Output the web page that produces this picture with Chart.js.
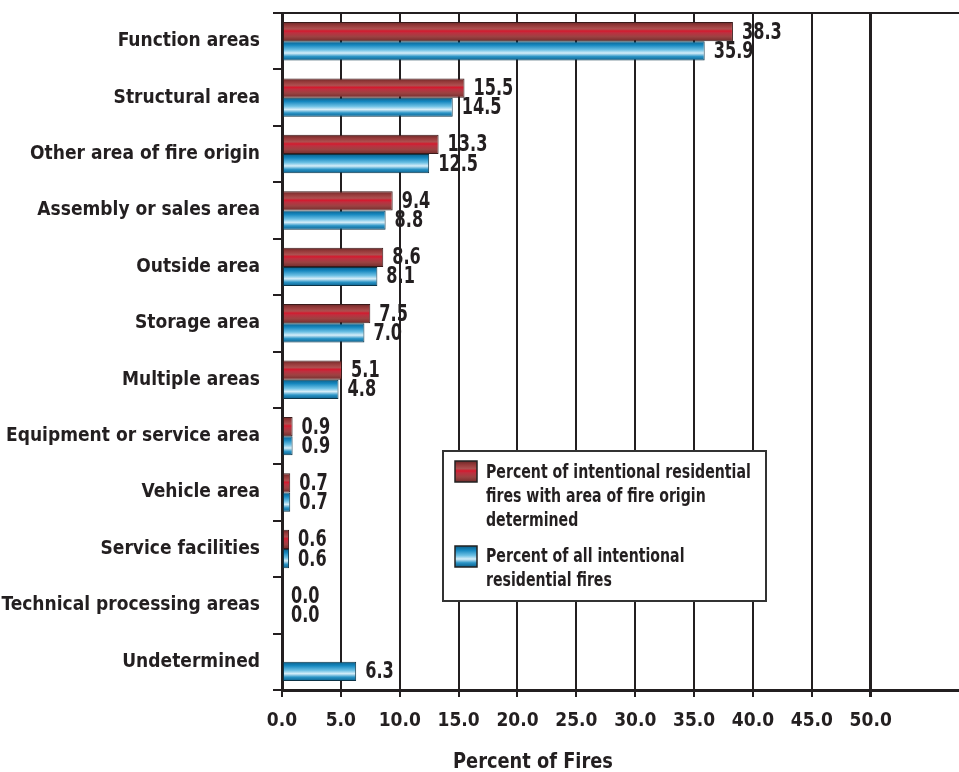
<!DOCTYPE html>
<html>
<head>
<meta charset="utf-8">
<script src="https://cdn.jsdelivr.net/npm/chart.js@4.4.1/dist/chart.umd.min.js"></script>
<style>
  html, body { margin: 0; padding: 0; background: #fff; }
  #wrap { width: 959px; height: 772px; position: relative; }
</style>
</head>
<body>
<div id="wrap"><canvas id="c" width="959" height="772"></canvas></div>
<script>
// Areas of fire origin
const categories = [
  'Function areas',
  'Structural area',
  'Other area of fire origin',
  'Assembly or sales area',
  'Outside area',
  'Storage area',
  'Multiple areas',
  'Equipment or service area',
  'Vehicle area',
  'Service facilities',
  'Technical processing areas',
  'Undetermined'
];
// Percent of intentional residential fires with area of fire origin determined
const determinedShare = [38.3, 15.5, 13.3, 9.4, 8.6, 7.5, 5.1, 0.9, 0.7, 0.6, 0.0, null];
// Percent of all intentional residential fires
const allShare = [35.9, 14.5, 12.5, 8.8, 8.1, 7.0, 4.8, 0.9, 0.7, 0.6, 0.0, 6.3];
const xTicks = [0, 5, 10, 15, 20, 25, 30, 35, 40, 45, 50];

const seriesNames = [
  ['Percent of intentional residential', 'fires with area of fire origin', 'determined'],
  ['Percent of all intentional', 'residential fires']
];

const FONT = '"Liberation Sans Narrow", "DejaVu Sans Condensed", "Arial Narrow", sans-serif';
const INK = '#231f20';
const CAT_PCT = 0.68;

function redGradient(ctx, top, h) {
  const g = ctx.createLinearGradient(0, top, 0, top + h);
  g.addColorStop(0.00, '#6a2828');
  g.addColorStop(0.18, '#973a3a');
  g.addColorStop(0.36, '#ad5050');
  g.addColorStop(0.47, '#d41a2e');
  g.addColorStop(0.56, '#be3040');
  g.addColorStop(0.76, '#9c4242');
  g.addColorStop(1.00, '#722c2c');
  return g;
}
function blueGradient(ctx, top, h) {
  const g = ctx.createLinearGradient(0, top, 0, top + h);
  g.addColorStop(0.00, '#0b5d86');
  g.addColorStop(0.20, '#1587bf');
  g.addColorStop(0.45, '#6cc0e4');
  g.addColorStop(0.62, '#d6eef9');
  g.addColorStop(0.80, '#2a94c6');
  g.addColorStop(1.00, '#0a5f8c');
  return g;
}

// Per-bar vertical gradient, built from the category scale position
function barFill(which) {
  return (c) => {
    const chart = c.chart;
    const y = chart.scales && chart.scales.y;
    if (!chart.chartArea || !y) return which === 0 ? '#a04444' : '#2a94c6';
    const band = y.height / categories.length;
    const thick = band * CAT_PCT / 2;
    const center = y.getPixelForValue(c.dataIndex);
    const top = which === 0 ? center - thick : center;
    return which === 0 ? redGradient(chart.ctx, top, thick) : blueGradient(chart.ctx, top, thick);
  };
}

// Condensed text: draw with a horizontal squeeze
function narrowText(ctx, text, x, y, size, squeeze, align) {
  ctx.save();
  ctx.font = 'bold ' + size + 'px ' + FONT;
  ctx.textBaseline = 'middle';
  ctx.textAlign = 'left';
  const w = ctx.measureText(text).width * squeeze;
  let x0 = x;
  if (align === 'center') x0 = x - w / 2;
  else if (align === 'right') x0 = x - w;
  ctx.translate(x0, y);
  ctx.scale(squeeze, 1);
  ctx.fillText(text, 0, 0);
  ctx.restore();
}

const valueLabels = {
  id: 'valueLabels',
  afterDatasetsDraw(chart) {
    const ctx = chart.ctx;
    ctx.save();
    ctx.fillStyle = INK;
    chart.data.datasets.forEach((ds, di) => {
      const meta = chart.getDatasetMeta(di);
      meta.data.forEach((el, i) => {
        const v = ds.data[i];
        if (v === null || v === undefined) return;
        narrowText(ctx, v.toFixed(1), el.x + 9, el.y + 1, 23, 0.78, 'left');
      });
    });
    ctx.restore();
  }
};

const frame = {
  id: 'frame',
  afterDraw(chart) {
    const ctx = chart.ctx;
    const a = chart.chartArea;
    ctx.save();
    // top rule
    ctx.strokeStyle = INK;
    ctx.lineWidth = 2;
    ctx.beginPath();
    ctx.moveTo(a.left - 9, a.top);
    ctx.lineTo(a.right, a.top);
    ctx.stroke();

    // legend box
    const bx = 443, by = 451, bw = 323, bh = 150;
    ctx.fillStyle = '#fff';
    ctx.fillRect(bx, by, bw, bh);
    ctx.lineWidth = 2;
    ctx.strokeStyle = '#333';
    ctx.strokeRect(bx, by, bw, bh);

    const sw = 22, sh = 21;
    ctx.fillStyle = redGradient(ctx, 461, sh);
    ctx.fillRect(455, 461, sw, sh);
    ctx.lineWidth = 1.5;
    ctx.strokeStyle = '#222';
    ctx.strokeRect(455, 461, sw, sh);
    ctx.fillStyle = blueGradient(ctx, 546, sh);
    ctx.fillRect(455, 546, sw, sh);
    ctx.strokeRect(455, 546, sw, sh);

    ctx.fillStyle = INK;
    seriesNames[0].forEach((t, k) => narrowText(ctx, t, 486, 473 + k * 24, 20, 0.785, 'left'));
    seriesNames[1].forEach((t, k) => narrowText(ctx, t, 486, 557 + k * 24, 20, 0.785, 'left'));

    // axis title
    narrowText(ctx, 'Percent of Fires', 533, 762, 22, 0.9, 'center');
    ctx.restore();
  }
};

new Chart(document.getElementById('c'), {
  type: 'bar',
  data: {
    labels: categories,
    datasets: [
      {
        label: seriesNames[0].join(' '),
        data: determinedShare,
        backgroundColor: barFill(0),
        borderColor: '#3a1a1a',
        borderWidth: 1,
        borderSkipped: false,
        categoryPercentage: CAT_PCT,
        barPercentage: 1.0
      },
      {
        label: seriesNames[1].join(' '),
        data: allShare,
        backgroundColor: barFill(1),
        borderColor: '#0d3447',
        borderWidth: 1,
        borderSkipped: false,
        categoryPercentage: CAT_PCT,
        barPercentage: 1.0
      }
    ]
  },
  options: {
    indexAxis: 'y',
    responsive: false,
    animation: false,
    layout: { padding: { top: 13, right: 0, bottom: 0, left: 0 } },
    plugins: {
      legend: { display: false },
      tooltip: { enabled: false },
      title: { display: false }
    },
    scales: {
      x: {
        type: 'linear',
        min: 0,
        max: 57.5,
        afterBuildTicks(scale) {
          scale.ticks = xTicks.map(v => ({ value: v }));
        },
        afterFit(scale) {
          scale.height = 82;
          scale.paddingLeft = 0;
          scale.paddingRight = 0;
        },
        ticks: {
          color: INK,
          font: { family: FONT, size: 19, weight: 'bold' },
          padding: 13,
          maxRotation: 0,
          autoSkip: false,
          callback: (v) => Number(v).toFixed(1)
        },
        grid: {
          color: INK,
          lineWidth: (c) => (c.tick && c.tick.value === 50 ? 3 : 2),
          tickLength: 7,
          drawTicks: true
        },
        border: { color: INK, width: 3 }
      },
      y: {
        type: 'category',
        offset: true,
        afterFit(scale) {
          scale.width = 282;
          scale.paddingTop = 0;
          scale.paddingBottom = 0;
        },
        ticks: {
          color: INK,
          font: { family: FONT, size: 19, weight: 'bold' },
          padding: 13,
          autoSkip: false
        },
        grid: {
          offset: true,
          drawOnChartArea: false,
          drawTicks: true,
          tickLength: 9,
          color: INK,
          lineWidth: 2
        },
        border: { color: INK, width: 3 }
      }
    }
  },
  plugins: [valueLabels, frame]
});
</script>
</body>
</html>
